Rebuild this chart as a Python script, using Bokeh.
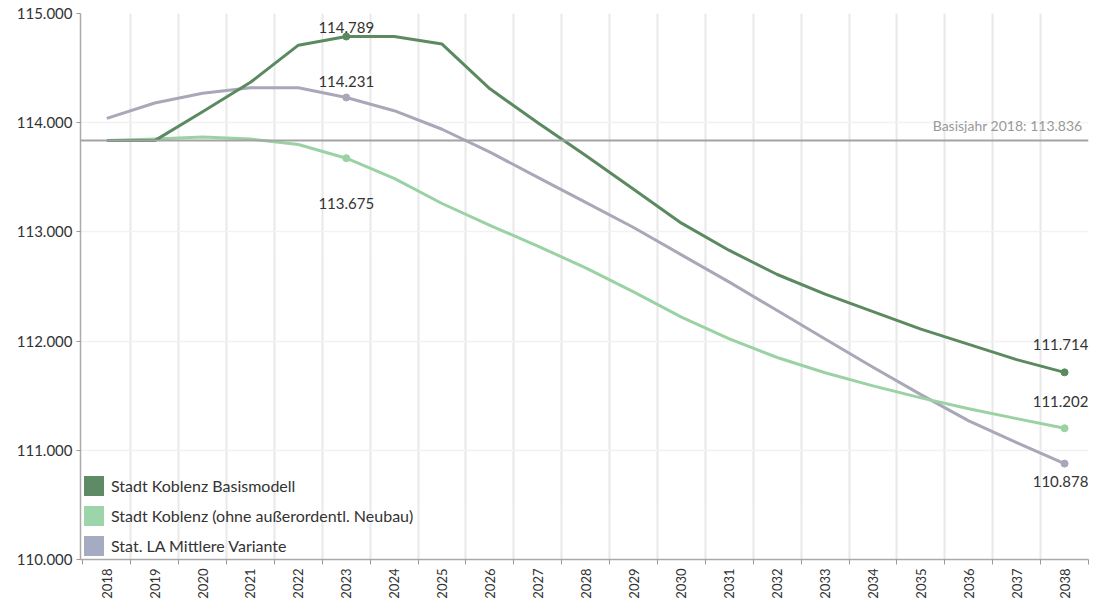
from bokeh.plotting import figure
from bokeh.models import (ColumnDataSource, FixedTicker, NumeralTickFormatter, Span, Label,
                          Legend, LegendItem, Range1d)
from bokeh.embed import file_html
from bokeh.resources import INLINE
from bokeh.core.properties import value

years = list(range(2018, 2039))
basismodell = [113.836, 113.836, 114.10, 114.37, 114.71, 114.789, 114.79, 114.72, 114.31, 114.00,
               113.70, 113.39, 113.08, 112.83, 112.61, 112.43, 112.27, 112.11, 111.97, 111.83, 111.714]
ohne_neubau = [113.836, 113.85, 113.87, 113.85, 113.80, 113.675, 113.49, 113.26, 113.06, 112.87,
               112.67, 112.45, 112.22, 112.02, 111.85, 111.71, 111.59, 111.48, 111.38, 111.29, 111.202]
stat_la = [114.04, 114.18, 114.27, 114.32, 114.32, 114.231, 114.11, 113.94, 113.73, 113.50,
           113.27, 113.04, 112.79, 112.54, 112.28, 112.02, 111.76, 111.51, 111.27, 111.07, 110.878]
series_names = ["Stadt Koblenz Basismodell", "Stadt Koblenz (ohne außerordentl. Neubau)",
                "Stat. LA Mittlere Variante"]
base_year = 2018
base_value = 113.836
y_ticks = [110, 111, 112, 113, 114, 115]

line_colors = ["#5b8a61", "#9ad2a4", "#a8a8b8"]
legend_colors = ["#5e8b66", "#9dd5aa", "#a5abc0"]
FONT = "Lato"

p = figure(width=1093, height=602, output_backend="svg", toolbar_location=None,
           x_range=Range1d(2017.45, 2038.5), y_range=Range1d(110, 115),
           min_border_left=80, min_border_right=5, min_border_top=13, min_border_bottom=43)
p.outline_line_color = None
p.background_fill_color = "white"

boundaries = [y - 0.5 for y in years] + [years[-1] + 0.5]

# axes
p.xaxis.ticker = FixedTicker(ticks=years, minor_ticks=boundaries)
p.xaxis.major_label_orientation = 1.5708
p.xaxis.major_tick_out = 0
p.xaxis.major_tick_in = 0
p.xaxis.minor_tick_out = 5
p.xaxis.minor_tick_in = 0
p.xaxis.minor_tick_line_color = "#999999"
p.xaxis.axis_line_color = "#aaaaaa"
p.xaxis.axis_line_width = 1.5
p.xaxis.major_label_text_font = FONT
p.xaxis.major_label_text_font_size = "13px"
p.xaxis.major_label_text_color = "#333333"
p.xaxis.major_label_standoff = 4

p.yaxis.ticker = FixedTicker(ticks=y_ticks)
p.yaxis.formatter = NumeralTickFormatter(format="0.000")
p.yaxis.major_tick_out = 4
p.yaxis.major_tick_in = 0
p.yaxis.minor_tick_out = 0
p.yaxis.major_tick_line_color = "#999999"
p.yaxis.axis_line_color = "#aaaaaa"
p.yaxis.axis_line_width = 1.5
p.yaxis.major_label_text_font = FONT
p.yaxis.major_label_text_font_size = "15px"
p.yaxis.major_label_text_color = "#333333"
p.yaxis.major_label_standoff = 4

p.xgrid.ticker = FixedTicker(ticks=boundaries[1:])
p.xgrid.grid_line_color = "#e8e8e8"
p.xgrid.grid_line_width = 2
p.ygrid.ticker = FixedTicker(ticks=y_ticks)
p.ygrid.grid_line_color = "#f2f2f2"
p.ygrid.grid_line_width = 1.5

# basis line
p.add_layout(Span(location=base_value, dimension="width", line_color="#a3a3a3", line_width=2))
p.add_layout(Label(x=2038.5, y=base_value, x_offset=-6, y_offset=7,
                   text=f"Basisjahr {base_year}: {base_value:.3f}", text_align="right",
                   text_baseline="bottom", text_font=FONT, text_font_size="14px",
                   text_color="#999999"))

# lines
for vals, col in zip([stat_la, ohne_neubau, basismodell], [line_colors[2], line_colors[1], line_colors[0]]):
    p.line(years, vals, line_color=col, line_width=3, line_join="round")

# markers at labelled points
mark_idx = [5, 20]
for vals, col in zip([basismodell, ohne_neubau, stat_la], line_colors):
    p.scatter([years[i] for i in mark_idx], [vals[i] for i in mark_idx],
              size=7, fill_color=col, line_color=col)

# value labels
lab_x = [years[5], years[5], years[5], years[20], years[20], years[20]]
lab_y = [basismodell[5], stat_la[5], ohne_neubau[5], basismodell[20], ohne_neubau[20], stat_la[20]]
lab_yoff = [-9, -16, 45, -28, -27, 18]
lab_xoff = [0, 0, 0, -4, -4, -4]
lab_src = ColumnDataSource(dict(x=lab_x, y=lab_y, yoff=lab_yoff, xoff=lab_xoff,
                                t=[f"{v:.3f}" for v in lab_y]))
p.text(x="x", y="y", text="t", y_offset="yoff", x_offset="xoff", source=lab_src,
       text_align="center", text_baseline="middle", text_font=value(FONT),
       text_font_size="15px", text_color="#333333")

# legend with square swatches (zero-height areas along each series give filled swatches)
items = []
for name, vals, col in zip(series_names, [basismodell, ohne_neubau, stat_la], legend_colors):
    r = p.varea(x=years, y1=vals, y2=vals, fill_color=col)
    items.append(LegendItem(label=name, renderers=[r]))
legend = Legend(items=items, location=(1, 1), glyph_width=25, glyph_height=25,
                spacing=5, padding=5, margin=0, label_text_font=FONT,
                label_text_font_size="16px", label_text_color="#333333",
                label_standoff=5, background_fill_alpha=0, border_line_color=None)
p.add_layout(legend)

open("out.html", "w").write(file_html(p, INLINE))
